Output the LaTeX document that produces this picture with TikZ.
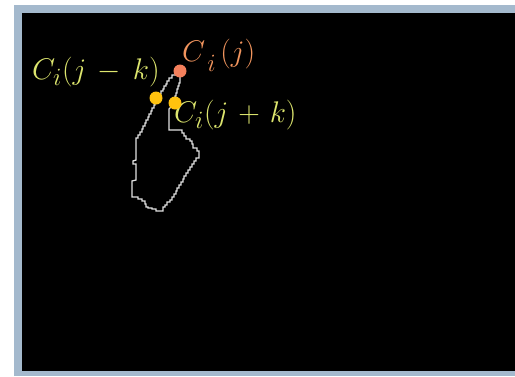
\documentclass[tikz,border=0pt]{standalone}
\usepackage{amsmath}
\usepackage{graphicx}
\usepackage{tikz}
\usetikzlibrary{positioning}
\definecolor{Frame}{HTML}{A4B9CD}
\definecolor{Curve}{HTML}{E2E2E2}
\definecolor{Coral}{HTML}{F4805C}
\definecolor{Gold}{HTML}{FFC20E}
\definecolor{Lime}{HTML}{DDE66E}
\definecolor{Peach}{HTML}{F2955E}
\newcommand{\bigmath}[1]{\scalebox{1.2}{$#1$}}

\begin{document}
\begin{tikzpicture}[x=1pt,y=-1pt,
  dot/.style={circle,inner sep=0pt,minimum size=13pt},
  lbl/.style={inner sep=0pt,font=\fontsize{24.88}{30}\selectfont},
  contour/.style={draw=Curve,line width=1.3pt,line join=miter}
]
% Screen and its frame.
\fill[white] (0,0) rectangle (515,376);
\fill[Frame] (14,5) rectangle (515,376);
\fill[black] (22,13) rectangle (515,371);
\useasboundingbox (0,0) rectangle (515,376);

% Contour points C_i(j), C_i(j-k), C_i(j+k).
\coordinate (cj) at (180,71);
\coordinate (cjm) at (156,98);
\coordinate (cjp) at (175,103);

% Pixel contour of the object.
\draw[contour] (cj) |- (172,75) |- (169,78) |- (167,81) |- (166,84)
  |- (164,86) |- (163,89) |- (161,91) |- (159,94) -- (cjm)
  -- (155,102) |- (154,105) |- (152,108) |- (151,111) |- (149,114)
  |- (148,117) |- (146,120) |- (145,123) |- (143,126) |- (142,129)
  |- (140,132) |- (138,135) |- (136,138) -- (136,160) -- (133,161)
  -- (133,164) -| (136,167) -- (136,180) -- (132,181) -- (132,197)
  -| (138,198) |- (142,199) |- (145,201) |- (146,204) |- (148,207)
  |- (152,208) |- (156,209) |- (160,211) -| (163,207) -| (165,205)
  -| (167,202) -| (170,200) -| (172,197) -| (174,194) -| (176,191)
  -| (177,188) -| (179,185) -| (181,182) -| (183,179) -| (184,176)
  -| (186,173) -| (188,170) -| (190,167) -| (192,164) -| (194,161)
  -| (196,158) -| (199,155) |- (197,151) |- (193,148) |- (192,144)
  |- (190,141) |- (186,139) |- (184,136) |- (182,133) -- (182,130)
  -- (169,130) -- (169,109) -- (cjp)
  -- (175,96) -| (176,93) -| (177,89) -| (178,86) -| (179,83)
  -| (180,79) -- (cj);

% Labels.
\node[lbl,text=Lime,anchor=base west] (lblm) at (32,79)
  {\bigmath{C_i(j\,-\,k)}};
\node[lbl,text=Lime,anchor=base west] (lblp) at (174,122)
  {\bigmath{C_i(j\mskip2mu+\mskip2mu k)}};
\node[lbl,text=Peach,anchor=base west] (lblj) at (182,61)
  {\bigmath{C_{\,\raisebox{-5pt}{$\scriptstyle i$}\,}(j)}};

% Marked points.
\node[dot,fill=Coral] (pj) at (cj) {};
\node[dot,fill=Gold] (pjm) at (cjm) {};
\node[dot,fill=Gold] (pjp) at (cjp) {};
\end{tikzpicture}
\end{document}
